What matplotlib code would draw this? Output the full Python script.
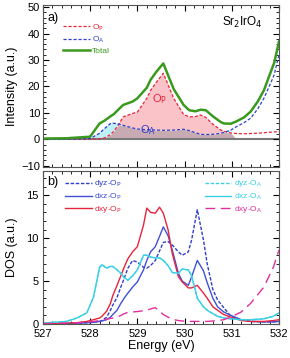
import numpy as np
import matplotlib
matplotlib.use("Agg")
import matplotlib.pyplot as plt
from matplotlib.ticker import MultipleLocator

plt.rcParams['font.family'] = ['Liberation Sans', 'DejaVu Sans']

# panel a) O K-edge spectra
energy_a = [527.0, 527.5, 528.0, 528.2, 528.3, 528.43, 528.5, 528.6, 528.7, 528.9,
            529.0, 529.2, 529.28, 529.4, 529.55, 529.77, 529.98, 530.1, 530.23, 530.34,
            530.45, 530.6, 530.77, 530.83, 530.98, 531.1, 531.26, 531.4, 531.55, 531.68,
            531.83, 531.9, 532.0]
o_p = [0, 0.05, 0.1, 0.2, 0.5, 1.8, 3.0, 5.5, 8.5, 9.8,
       10.3, 15.5, 18.5, 21.5, 25.0, 15.5, 9.4, 8.5, 8.6, 9.2,
       8.3, 5.7, 3.5, 3.0, 2.4, 2.2, 2.1, 2.2, 2.3, 2.5,
       2.7, 2.8, 3.0]
o_a = [0, 0.05, 0.3, 2.3, 4.0, 6.0, 6.1, 5.8, 5.3, 4.3,
       3.9, 3.6, 3.6, 3.5, 3.4, 3.5, 3.8, 3.3, 2.5, 1.9,
       1.8, 1.9, 2.3, 2.6, 3.5, 4.8, 6.3, 8.0, 11.5, 15.5,
       21.5, 24.5, 32.0]
total = [0.3, 0.4, 1.0, 6.0, 7.0, 8.7, 9.5, 11.3, 13.0, 14.3,
         15.5, 19.5, 22.5, 25.5, 28.7, 19.0, 13.0, 11.0, 10.6, 11.2,
         11.0, 8.7, 6.5, 6.0, 5.9, 6.8, 8.3, 10.5, 14.3, 18.5,
         25.7, 29.0, 37.0]

# panel b) orbital resolved DOS
energy_b = [527.0, 527.5, 527.72, 527.93, 528.07, 528.2, 528.25, 528.35, 528.43, 528.48,
            528.57, 528.65, 528.72, 528.8, 528.9, 529.0, 529.13, 529.2, 529.28, 529.38,
            529.47, 529.55, 529.65, 529.74, 529.87, 529.95, 530.08, 530.15, 530.27, 530.4,
            530.48, 530.6, 530.7, 530.83, 530.98, 531.2, 531.4, 531.68, 531.88, 532.0]
dyz_op = [0, 0.05, 0.1, 0.15, 0.2, 0.3, 0.4, 0.8, 1.6, 2.2,
          3.1, 4.3, 5.3, 6.5, 7.4, 7.2, 6.6, 6.5, 6.8, 7.4,
          8.5, 9.5, 9.6, 9.2, 8.4, 8.0, 8.4, 9.8, 13.3, 9.8,
          7.0, 4.0, 2.8, 1.9, 0.9, 0.5, 0.3, 0.25, 0.25, 0.3]
dxz_op = [0, 0.05, 0.1, 0.15, 0.2, 0.3, 0.35, 0.5, 0.8, 1.1,
          1.6, 2.4, 3.0, 3.6, 4.3, 4.9, 6.3, 7.4, 8.4, 9.0,
          10.2, 11.3, 10.3, 8.6, 5.9, 5.0, 4.5, 5.5, 7.4, 6.2,
          4.8, 3.0, 2.0, 1.4, 1.0, 0.5, 0.3, 0.25, 0.25, 0.3]
dxy_op = [0, 0.1, 0.15, 0.3, 0.5, 0.7, 0.9, 1.5, 2.4, 3.3,
          4.5, 5.6, 6.6, 7.6, 8.4, 9.0, 11.5, 13.5, 13.0, 12.9,
          13.6, 12.9, 11.0, 8.2, 5.5, 4.9, 4.2, 4.2, 4.5, 3.6,
          3.0, 2.0, 1.6, 1.1, 0.8, 0.4, 0.3, 0.3, 0.4, 0.5]
dyz_oa = [0.1, 0.3, 0.7, 1.3, 3.1, 6.6, 6.9, 6.5, 6.7, 6.7,
          6.3, 5.9, 5.4, 5.1, 5.6, 6.3, 8.0, 8.0, 7.8, 7.7,
          7.7, 7.4, 6.8, 6.0, 5.9, 6.4, 6.3, 5.6, 3.0, 2.0,
          1.6, 1.2, 0.9, 0.7, 0.6, 0.5, 0.5, 0.6, 0.9, 1.3]
dxz_oa = [0.1, 0.3, 0.7, 1.3, 3.1, 6.6, 6.9, 6.5, 6.7, 6.7,
          6.3, 5.9, 5.4, 5.1, 5.6, 6.3, 8.0, 8.0, 7.8, 7.7,
          7.7, 7.4, 6.8, 6.0, 5.9, 6.4, 6.3, 5.6, 3.0, 2.0,
          1.6, 1.2, 0.9, 0.7, 0.6, 0.5, 0.5, 0.6, 0.9, 1.3]
dxy_oa = [0.05, 0.1, 0.15, 0.2, 0.3, 0.4, 0.45, 0.55, 0.65, 0.7,
          0.8, 1.0, 1.2, 1.35, 1.4, 1.45, 1.55, 1.6, 1.75, 1.9,
          1.5, 1.1, 0.8, 0.55, 0.4, 0.35, 0.3, 0.3, 0.3, 0.3,
          0.3, 0.35, 0.4, 0.5, 0.8, 1.4, 2.4, 4.3, 6.6, 8.6]

red = '#e8243c'
blue = '#2f3fc8'
blue2 = '#4050d8'
green = '#3a9a1e'
cyan = '#3cd0e6'
magenta = '#e0309c'

fig = plt.figure(figsize=(2.9, 3.58), dpi=100)
ax1 = fig.add_axes([0.148, 0.534, 0.814, 0.452])
ax2 = fig.add_axes([0.148, 0.095, 0.814, 0.427])

ea = np.array(energy_a)
op = np.array(o_p)
oa = np.array(o_a)
m = ea <= 531.0
lo = np.minimum(op, oa)
ax1.fill_between(ea, 0, lo, where=m, color='#c8aab2', lw=0, interpolate=True)
ax1.fill_between(ea, oa, op, where=m & (op >= oa), color='#fac3c8', lw=0, interpolate=True)
ax1.fill_between(ea, op, oa, where=m & (oa >= op), color='#bdf0f7', lw=0, interpolate=True)
ax1.axhline(0, color='#7a7a7a', lw=1.5, zorder=1)
ax1.plot(energy_a, o_p, color=red, ls=(0, (2.5, 1.5)), lw=0.9, label='O$_\\mathrm{P}$')
ax1.plot(energy_a, o_a, color=blue, ls=(0, (2.5, 1.5)), lw=0.9, label='O$_\\mathrm{A}$')
ax1.plot(energy_a, total, color=green, lw=1.8, label='Total')

ax1.set_xlim(527, 532)
ax1.set_ylim(-10.4, 50.8)
ax1.set_ylabel('Intensity (a.u.)', fontsize=9, labelpad=2)
ax1.set_yticks([-10, 0, 10, 20, 30, 40, 50])
ax1.yaxis.set_minor_locator(MultipleLocator(2))
ax1.xaxis.set_minor_locator(MultipleLocator(0.2))
ax1.tick_params(labelbottom=False)
ax1.text(0.02, 0.955, 'a)', transform=ax1.transAxes, fontsize=9, va='top')
ax1.text(0.76, 0.87, 'Sr$_2$IrO$_4$', transform=ax1.transAxes, fontsize=8.5)
ax1.text(529.3, 14, 'O$_\\mathrm{P}$', color=red, fontsize=8)
ax1.text(529.05, 2.2, 'O$_\\mathrm{A}$', color=blue, fontsize=8)
leg1 = ax1.legend(loc='upper left', bbox_to_anchor=(0.06, 0.93), fontsize=6,
                  frameon=False, handlelength=3.2, handletextpad=0.3,
                  labelspacing=0.25, borderpad=0.2)
for t, c in zip(leg1.get_texts(), [red, blue, green]):
    t.set_color(c)

l1, = ax2.plot(energy_b, dyz_op, color=blue, ls=(0, (2.5, 1.2)), lw=1.0, label='dyz-O$_\\mathrm{P}$')
l2, = ax2.plot(energy_b, dxz_op, color=blue2, lw=1.0, label='dxz-O$_\\mathrm{P}$')
l3, = ax2.plot(energy_b, dxy_op, color=red, lw=1.0, label='dxy-O$_\\mathrm{P}$')
l4, = ax2.plot(energy_b, dyz_oa, color=cyan, ls=(0, (2.5, 1.2)), lw=1.0, label='dyz-O$_\\mathrm{A}$')
l5, = ax2.plot(energy_b, dxz_oa, color=cyan, lw=1.0, label='dxz-O$_\\mathrm{A}$')
l6, = ax2.plot(energy_b, dxy_oa, color=magenta, ls=(0, (7, 4)), lw=1.0, label='dxy-O$_\\mathrm{A}$')

ax2.set_xlim(527, 532)
ax2.set_ylim(0, 17.8)
ax2.set_yticks([0, 5, 10, 15])
ax2.yaxis.set_minor_locator(MultipleLocator(1))
ax2.xaxis.set_minor_locator(MultipleLocator(0.2))
ax2.set_xlabel('Energy (eV)', fontsize=9, labelpad=1)
ax2.set_ylabel('DOS (a.u.)', fontsize=9, labelpad=6)
ax2.text(0.02, 0.965, 'b)', transform=ax2.transAxes, fontsize=9, va='top')

legb1 = ax2.legend(handles=[l1, l2, l3], loc='upper left', bbox_to_anchor=(0.07, 0.99),
                   fontsize=6, frameon=False, handlelength=3.2, handletextpad=0.3,
                   labelspacing=0.25, borderpad=0.2)
for t, c in zip(legb1.get_texts(), [blue, blue2, red]):
    t.set_color(c)
ax2.add_artist(legb1)
legb2 = ax2.legend(handles=[l4, l5, l6], loc='upper left', bbox_to_anchor=(0.66, 0.99),
                   fontsize=6, frameon=False, handlelength=3.2, handletextpad=0.3,
                   labelspacing=0.25, borderpad=0.2)
for t, c in zip(legb2.get_texts(), [cyan, cyan, magenta]):
    t.set_color(c)

for ax in (ax1, ax2):
    ax.tick_params(which='both', direction='in', top=True, right=True, labelsize=8, pad=2)
    ax.tick_params(which='major', length=4, width=0.8)
    ax.tick_params(which='minor', length=2, width=0.6)
    for s in ax.spines.values():
        s.set_color('#555555')
        s.set_linewidth(0.8)
ax2.tick_params(axis='x', pad=3.5)
ax2.tick_params(axis='y', pad=3)

fig.savefig('out.png', dpi=100)
